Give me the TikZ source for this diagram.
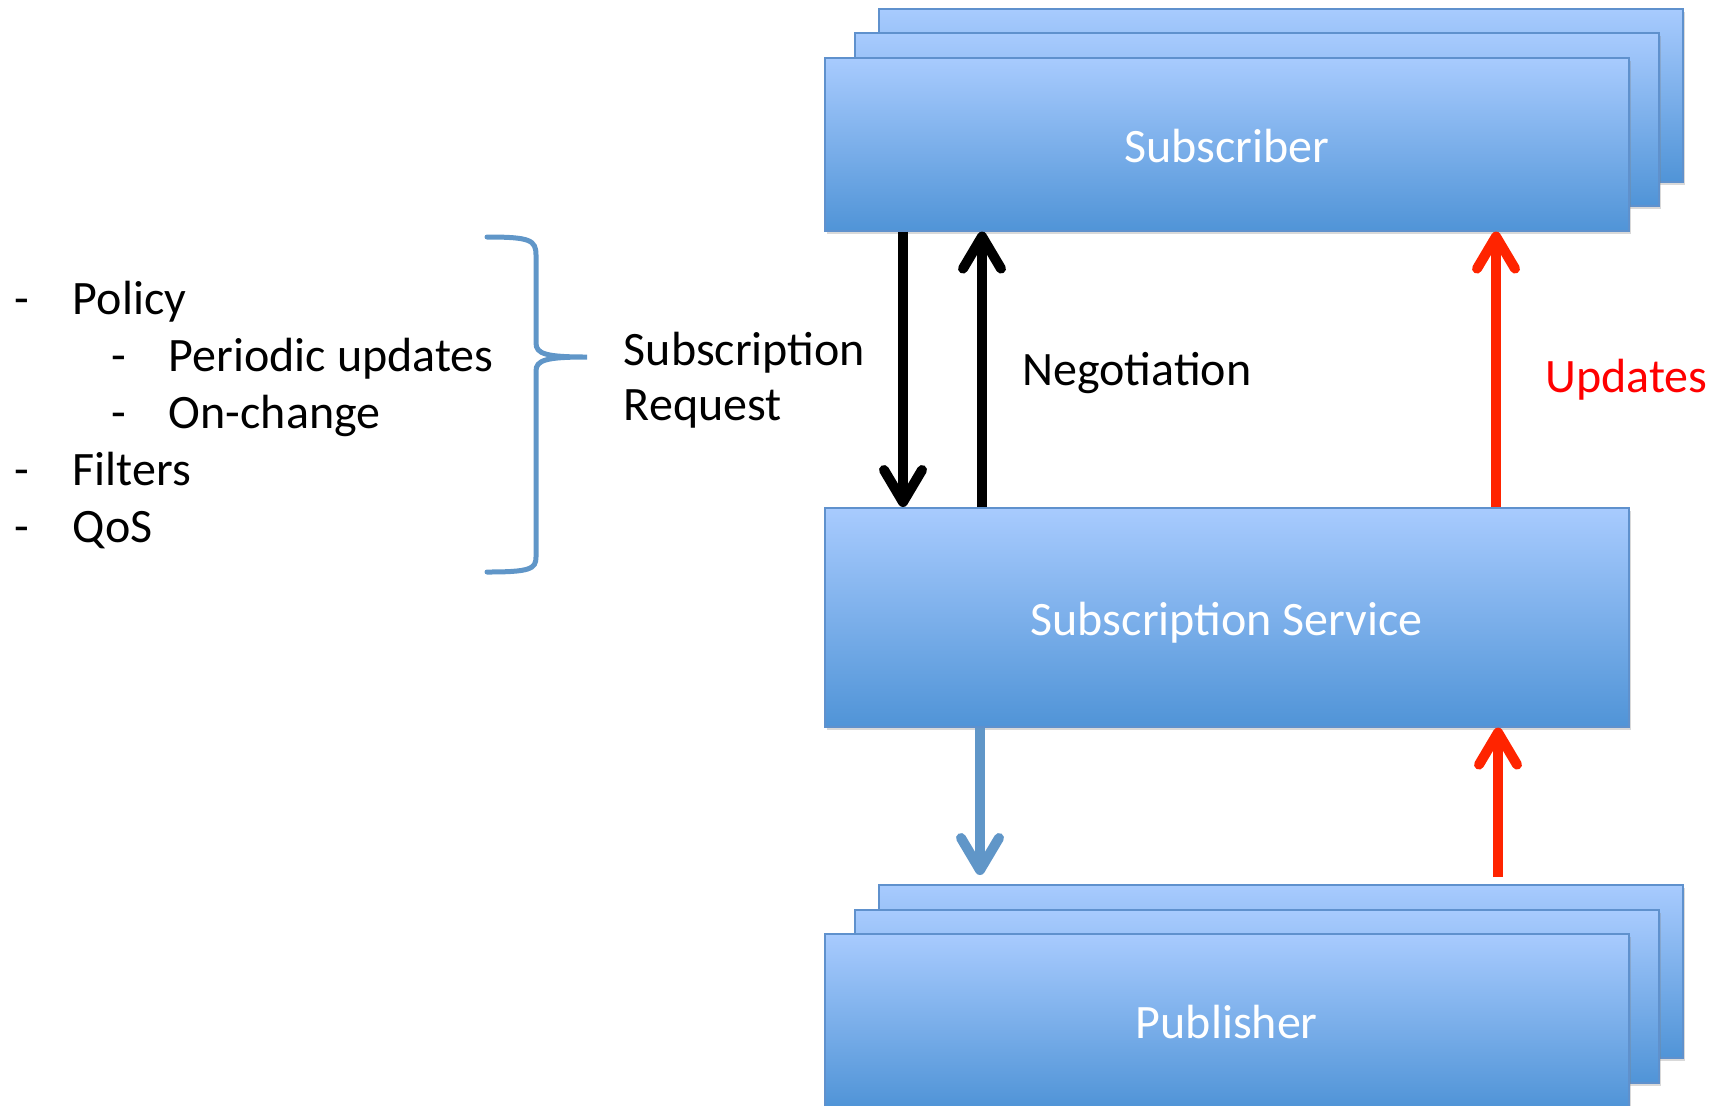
\documentclass[tikz,border=0pt]{standalone}
\usepackage{fontspec}
\setmainfont{Carlito}
\usetikzlibrary{arrows.meta,shadows}

\definecolor{boxtop}{RGB}{168,203,254}
\definecolor{boxbot}{RGB}{80,148,215}
\definecolor{boxline}{RGB}{95,145,205}
\definecolor{updred}{RGB}{255,36,0}
\definecolor{flowblue}{RGB}{96,150,200}

\begin{document}
\begin{tikzpicture}[x=0.5pt,y=-0.5pt,
  box/.style={draw=boxline, line width=0.8pt, top color=boxtop, bottom color=boxbot,
    minimum width=402pt, minimum height=86.5pt, anchor=north west, inner sep=0pt,
    text=white, font=\fontsize{24}{29}\selectfont, text height=18.5pt, text depth=0pt,
    drop shadow={shadow xshift=1.2pt, shadow yshift=-1.8pt, opacity=0.3}},
  tall/.style={minimum height=109.5pt},
  txt/.style={inner sep=0pt, anchor=base west, font=\fontsize{24}{29}\selectfont},
  flow/.style={line width=5pt, -{Straight Barb[length=16pt,width=19pt,round]}},
  brace/.style={draw=flowblue, line width=2.5pt, line cap=round}
]
\useasboundingbox (0,0) rectangle (1727,1105);
\begin{scope}
\clip (0,0) rectangle (1727,1105);

% subscriber stack
\node[box] (subC) at (878,8) {};
\node[box] (subB) at (854,32) {};
\node[box] (sub) at (824,57) {Subscriber};

% subscription service
\node[box,tall] (svc) at (824,507) {Subscription Service};

% publisher stack
\node[box] (pubC) at (878,884) {};
\node[box] (pubB) at (854,909) {};
\node[box] (pub) at (824,933) {Publisher};

% connectors between the boxes
\draw[flow, black] ([xshift=39.5pt]sub.south west) -- ([xshift=39.5pt]svc.north west);
\draw[flow, black] ([xshift=79pt]svc.north west) -- ([xshift=79pt]sub.south west);
\draw[flow, updred] ([xshift=336pt]svc.north west) -- ([xshift=336pt]sub.south west);
\draw[flow, flowblue] ([xshift=78pt]svc.south west) -- ([xshift=51pt,yshift=4.5pt]pubC.north west);
\draw[flow, updred] ([xshift=310pt,yshift=3.5pt]pubC.north west) -- ([xshift=337pt]svc.south west);
\end{scope}

% labels on the connectors
\node[txt] (req1) at (623.5,365) {Subscription};
\node[txt] (req2) at (623.5,420) {Request};
\node[txt] (neg) at (1022,385) {Negotiation};
\node[txt, text=red] (upd) at (1545,392) {Updates};

% request contents
\node[txt] (d1) at (14.5,314) {-};
\node[txt] (l1) at (72.5,314) {Policy};
\node[txt] (d2) at (111.5,371) {-};
\node[txt] (l2) at (168.5,371) {Periodic updates};
\node[txt] (d3) at (111.5,428) {-};
\node[txt] (l3) at (168.5,428) {On-change};
\node[txt] (d4) at (14.5,485) {-};
\node[txt] (l4) at (72.5,485) {Filters};
\node[txt] (d5) at (14.5,542) {-};
\node[txt] (l5) at (72.5,542) {QoS};

% curly brace
\draw[brace] (487,237) .. controls (530,237) and (536,240) .. (536,255)
  -- (536,343) .. controls (536,354) and (546,357) .. (587,357)
  .. controls (546,357) and (536,360) .. (536,371)
  -- (536,557) .. controls (536,569) and (530,572) .. (487,572);
\end{tikzpicture}
\end{document}
